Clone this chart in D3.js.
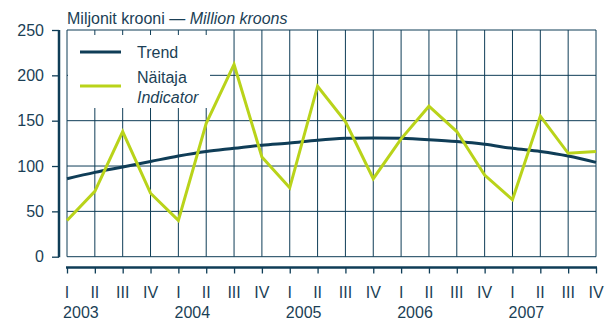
<!DOCTYPE html>
<html>
<head>
<meta charset="utf-8">
<script src="https://cdn.jsdelivr.net/npm/d3@7"></script>
<style>
  html, body { margin: 0; padding: 0; background: #fff; }
  svg { display: block; font-family: "Liberation Sans", Arial, sans-serif; }
</style>
</head>
<body>
<svg id="chart" width="606" height="320"></svg>
<script>
// Quarterly series, 2003 Q1 – 2007 Q4
const years = ["2003", "2004", "2005", "2006", "2007"];
const quarters = ["I", "II", "III", "IV"];
const indicator = [40, 72, 138, 70, 40, 147, 212, 110, 76, 188, 149, 86, 130, 166, 138, 90, 63, 155, 114, 116];
const trend = [86, 93, 99, 105, 111, 116, 119.5, 123, 125.5, 128.5, 130.5, 131, 130.5, 129, 127, 124, 119.5, 116, 111, 104];
const yTicks = [0, 50, 100, 150, 200, 250];

const navy = "#0f3d57";
const textColor = "#1b3f56";
const green = "#b9d31a";

const periods = [];
years.forEach(y => quarters.forEach(q => periods.push({ year: y, q })));

const svg = d3.select("#chart");

const x = d3.scalePoint().domain(d3.range(periods.length)).range([67, 596]);
const y = d3.scaleLinear().domain([0, 250]).range([256.7, 30]);

// grid
const grid = svg.append("g");
grid.selectAll("line.h").data(yTicks).join("line")
  .attr("x1", x(0)).attr("x2", x(periods.length - 1))
  .attr("y1", d => y(d)).attr("y2", d => y(d))
  .attr("stroke", navy).attr("stroke-width", 1);
grid.selectAll("line.v").data(d3.range(periods.length)).join("line")
  .attr("x1", d => x(d)).attr("x2", d => x(d))
  .attr("y1", y(250)).attr("y2", y(0))
  .attr("stroke", navy).attr("stroke-width", 1);

// left axis
const yAxis = d3.axisLeft(y).tickValues(yTicks).tickSize(7).tickPadding(8);
const yg = svg.append("g").attr("transform", "translate(59,0)").call(yAxis);
yg.select(".domain").attr("stroke", navy).attr("stroke-width", 2.5).attr("d", `M0,${y(250)}V${y(0) + 0.5}`);
yg.selectAll(".tick line").attr("stroke", navy).attr("stroke-width", 1.3);
yg.selectAll(".tick text").attr("fill", textColor).attr("font-size", 16)
  .attr("font-family", "Liberation Sans, Arial, sans-serif");

// bottom axis
const xAxis = d3.axisBottom(x).tickSize(6).tickPadding(0).tickFormat(() => "");
const xg = svg.append("g").attr("transform", "translate(0,267.5)").call(xAxis);
xg.select(".domain").attr("stroke", navy).attr("stroke-width", 2.5)
  .attr("d", `M${x(0) - 1},0H${x(periods.length - 1) + 1}`);
xg.selectAll(".tick line").attr("stroke", navy).attr("stroke-width", 1.3);

svg.append("g").selectAll("text").data(periods).join("text")
  .attr("x", (d, i) => x(i)).attr("y", 298)
  .attr("text-anchor", "middle").attr("font-size", 16).attr("fill", textColor)
  .text(d => d.q);

const step = x.step();
svg.append("g").selectAll("text").data(years).join("text")
  .attr("x", (d, i) => x(i * 4) + step / 2).attr("y", 318)
  .attr("text-anchor", "middle").attr("font-size", 16).attr("fill", textColor)
  .text(d => d);

// title
const title = svg.append("text").attr("x", 67).attr("y", 24)
  .attr("font-size", 16).attr("fill", textColor);
title.append("tspan").text("Miljonit krooni — ");
title.append("tspan").attr("font-style", "italic").text("Million kroons");

// legend box (sits over the grid)
svg.append("rect").attr("x", 68).attr("y", 35).attr("width", 142).attr("height", 73).attr("fill", "#fff");

// series
const line = d3.line().x((d, i) => x(i)).y(d => y(d));
svg.append("path").datum(trend)
  .attr("d", line.curve(d3.curveCatmullRom)(trend))
  .attr("fill", "none").attr("stroke", navy).attr("stroke-width", 3);
svg.append("path").datum(indicator)
  .attr("d", d3.line().x((d, i) => x(i)).y(d => y(d))(indicator))
  .attr("fill", "none").attr("stroke", green).attr("stroke-width", 3).attr("stroke-linejoin", "miter");

// legend entries
const lg = svg.append("g");
lg.append("line").attr("x1", 80).attr("x2", 121).attr("y1", 52).attr("y2", 52)
  .attr("stroke", navy).attr("stroke-width", 3.2);
lg.append("text").attr("x", 137).attr("y", 57.5).attr("font-size", 16).attr("fill", textColor).text("Trend");
lg.append("line").attr("x1", 80).attr("x2", 121).attr("y1", 86).attr("y2", 86)
  .attr("stroke", green).attr("stroke-width", 3.2);
lg.append("text").attr("x", 137).attr("y", 82.7).attr("font-size", 16).attr("fill", textColor).text("Näitaja");
lg.append("text").attr("x", 137).attr("y", 102.7).attr("font-size", 16).attr("font-style", "italic")
  .attr("fill", textColor).text("Indicator");
</script>
</body>
</html>
